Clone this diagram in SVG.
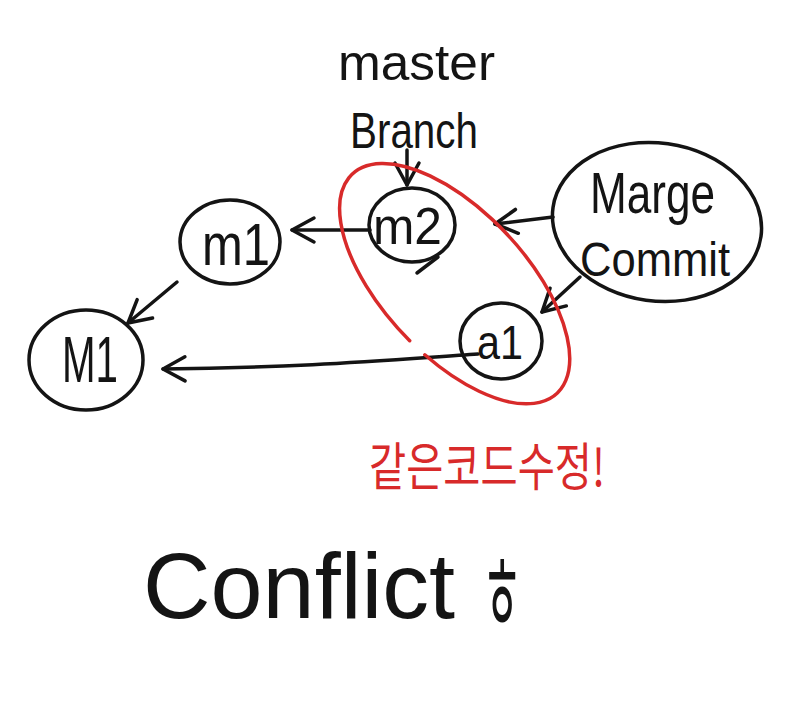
<svg xmlns="http://www.w3.org/2000/svg" width="802" height="703" viewBox="0 0 802 703">
<defs>
<style>
.node{fill:none;stroke:#141414;stroke-width:3.5}
.lbl{font-family:"Liberation Sans","Noto Sans CJK KR",sans-serif;fill:#141414}
.conn{fill:none;stroke:#141414;stroke-width:3.5;stroke-linecap:round;stroke-linejoin:round}
.red{fill:none;stroke:#d82a2a;stroke-width:3.5;stroke-linecap:round}
.redtxt{font-family:"Noto Sans CJK KR","Liberation Sans",sans-serif;fill:#d82a2a}
</style>
<marker id="v" viewBox="0 0 30 30" refX="27" refY="15" markerWidth="30" markerHeight="30" markerUnits="userSpaceOnUse" orient="auto">
<path d="M5,3 L27,15 L5,27" fill="none" stroke="#141414" stroke-width="3.5" stroke-linecap="round" stroke-linejoin="round"/>
</marker>
</defs>
<rect width="802" height="703" fill="#ffffff"/>

<g id="label-master-branch">
<text class="lbl" x="338" y="80" font-size="50" textLength="157" lengthAdjust="spacingAndGlyphs">master</text>
<text class="lbl" x="350" y="148" font-size="50" textLength="128" lengthAdjust="spacingAndGlyphs">Branch</text>
</g>

<g id="node-M1">
<ellipse class="node" cx="86" cy="360" rx="57" ry="50"/>
<text class="lbl" x="62" y="382" font-size="64" textLength="56" lengthAdjust="spacingAndGlyphs">M1</text>
</g>

<g id="node-m1">
<ellipse class="node" cx="230" cy="242" rx="50" ry="42"/>
<text class="lbl" x="202" y="265" font-size="60" textLength="68" lengthAdjust="spacingAndGlyphs">m1</text>
</g>

<g id="node-m2">
<ellipse class="node" cx="412" cy="225" rx="43" ry="37"/>
<text class="lbl" x="373" y="244" font-size="52" textLength="69" lengthAdjust="spacingAndGlyphs">m2</text>
</g>

<g id="node-a1">
<ellipse class="node" cx="501" cy="341" rx="41" ry="38"/>
<text class="lbl" x="477" y="359" font-size="48" textLength="46" lengthAdjust="spacingAndGlyphs">a1</text>
</g>

<g id="node-merge">
<ellipse class="node" cx="657" cy="222" rx="105" ry="79" transform="rotate(8 657 222)"/>
<text class="lbl" x="590" y="213" font-size="58" textLength="125" lengthAdjust="spacingAndGlyphs">Marge</text>
<text class="lbl" x="580" y="276" font-size="48" textLength="150" lengthAdjust="spacingAndGlyphs">Commit</text>
</g>

<g id="connectors">
<path class="conn" d="M407,150 L407,185" marker-end="url(#v)"/>
<path class="conn" d="M370,230 L292,230" marker-end="url(#v)"/>
<path class="conn" d="M177,282 L128,323" marker-end="url(#v)"/>
<path class="conn" d="M478,354 C400,359 300,368 163,369" marker-end="url(#v)"/>
<path class="conn" d="M553,217 L495,224" marker-end="url(#v)"/>
<path class="conn" d="M580,277 L542,312" marker-end="url(#v)"/>
<path class="conn" d="M417,273 L438,257"/>
</g>

<g id="conflict-highlight">
<path class="red" d="M424.8,354.8 A150,72 47 1 0 409.7,340.7"/>
<text class="redtxt" x="369" y="486" font-size="52" textLength="236" lengthAdjust="spacingAndGlyphs">같은코드수정!</text>
</g>

<g id="label-conflict">
<text class="lbl" x="143" y="618" font-size="92" textLength="312" lengthAdjust="spacingAndGlyphs">Conflict</text>
<text class="lbl" x="482" y="632" font-size="108" textLength="40" lengthAdjust="spacingAndGlyphs">ㅎ</text>
</g>
</svg>
